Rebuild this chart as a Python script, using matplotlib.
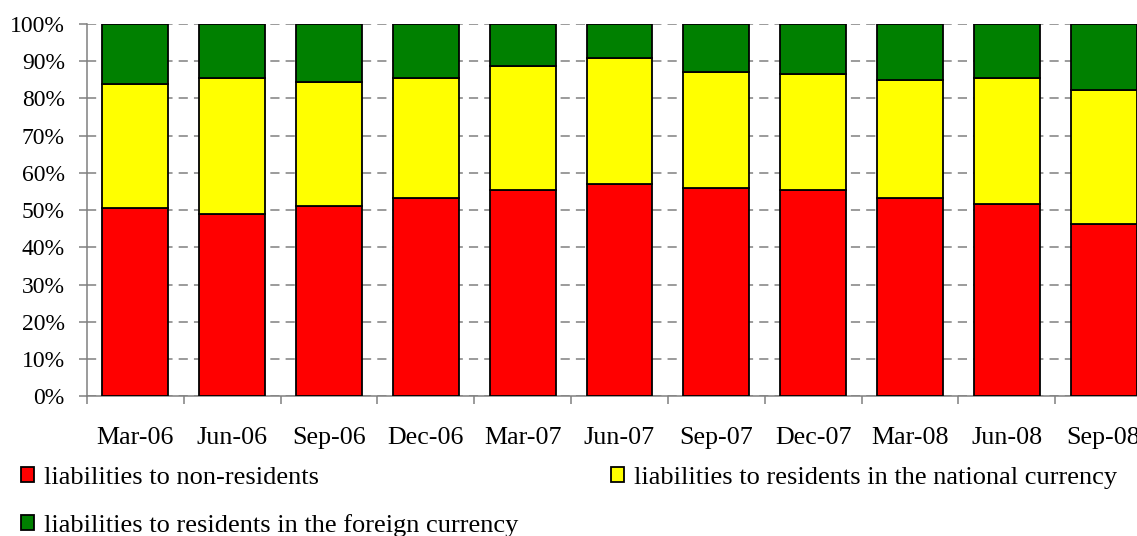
import numpy as np
import matplotlib
matplotlib.use("Agg")
import matplotlib.pyplot as plt
from matplotlib.patches import Patch
from matplotlib.ticker import FixedLocator, PercentFormatter

plt.rcParams['font.family'] = ['Liberation Serif', 'DejaVu Serif']

# quarters
periods = ['Mar-06', 'Jun-06', 'Sep-06', 'Dec-06', 'Mar-07', 'Jun-07',
           'Sep-07', 'Dec-07', 'Mar-08', 'Jun-08', 'Sep-08']

# shares in % of total liabilities
non_residents = [50.6, 49.1, 51.2, 53.4, 55.4, 57.1, 56.0, 55.4, 53.4, 51.8, 46.4]
residents_national = [33.4, 36.4, 33.3, 32.1, 33.3, 33.8, 31.2, 31.3, 31.6, 33.7, 35.9]
residents_foreign = [16.0, 14.5, 15.5, 14.5, 11.3, 9.1, 12.8, 13.3, 15.0, 14.5, 17.7]

labels = ['liabilities to non-residents',
          'liabilities to residents in the national currency',
          'liabilities to residents in the foreign currency']
colors = ['#ff0000', '#ffff00', '#008000']

fig = plt.figure(figsize=(11.37, 5.36), dpi=100)
ax = fig.add_axes([0.0765, 0.2603, 0.9367, 0.695])

x = np.arange(len(periods))
red = np.array(non_residents)
yel = np.array(residents_national)
grn = np.array(residents_foreign)

w = 0.68
ax.bar(x, red, w, color=colors[0], edgecolor='black', linewidth=1.3, zorder=3)
ax.bar(x, yel, w, bottom=red, color=colors[1], edgecolor='black', linewidth=1.3, zorder=3)
ax.bar(x, grn, w, bottom=red + yel, color=colors[2], edgecolor='black', linewidth=1.3, zorder=3)

ax.set_xlim(-0.5, len(periods) - 0.5)
ax.set_ylim(0, 100)
ax.set_yticks(np.arange(0, 101, 10))
ax.yaxis.set_major_formatter(PercentFormatter(decimals=0))
ax.yaxis.grid(True, color='#808080', linestyle=(0, (6, 4)), linewidth=1.1, zorder=0)

ax.set_xticks(x)
ax.set_xticklabels(periods)
ax.xaxis.set_minor_locator(FixedLocator(np.arange(-0.5, len(periods), 1)))
ax.tick_params(axis='x', which='major', length=0, pad=22, labelsize=18.7)
ax.tick_params(axis='x', which='minor', length=6, color='#808080', width=1.1)
ax.tick_params(axis='y', length=6, color='#808080', width=1.1, pad=10, labelsize=17)

for s in ['top', 'right']:
    ax.spines[s].set_visible(False)
for s in ['left', 'bottom']:
    ax.spines[s].set_color('#808080')
    ax.spines[s].set_linewidth(1.1)

handles = [Patch(facecolor=c, edgecolor='black', linewidth=1.3) for c in colors]
fig.legend([handles[0], handles[2], handles[1]], [labels[0], labels[2], labels[1]],
           ncol=2, loc='upper left', bbox_to_anchor=(0.0185, 0.129),
           frameon=False, fontsize=19, handlelength=0.5, handleheight=0.5,
           handletextpad=0.38, columnspacing=3.5, labelspacing=0.95,
           borderpad=0, borderaxespad=0)

fig.savefig('out.png', dpi=100)
